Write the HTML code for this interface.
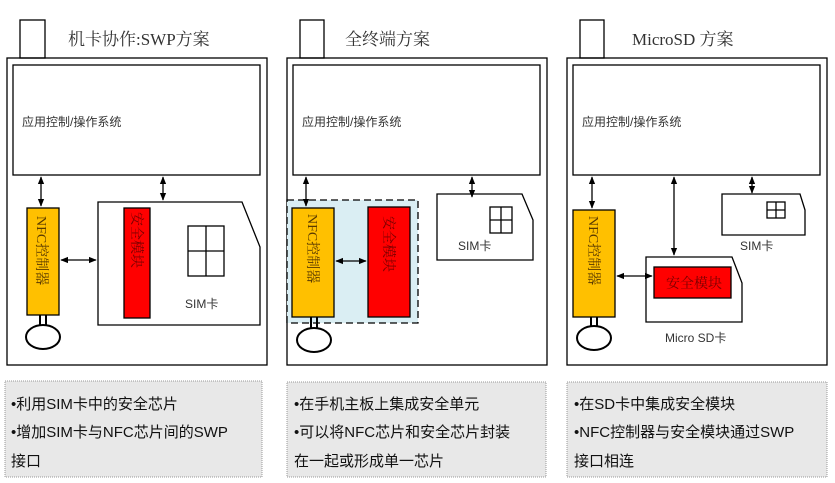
<!DOCTYPE html>
<html><head><meta charset="utf-8"><style>
html,body{margin:0;padding:0;background:#fff}
svg{display:block}
.s{font-family:"Liberation Serif","Noto Serif CJK SC",serif}
.a{font-family:"Liberation Sans","Noto Sans CJK SC",sans-serif}
</style></head><body>
<svg width="835" height="483" viewBox="0 0 835 483" xmlns="http://www.w3.org/2000/svg">
<defs>
<marker id="m" viewBox="0 0 10 10" refX="9" refY="5" markerWidth="6" markerHeight="6" orient="auto-start-reverse"><path d="M0,1 L10,5 L0,9 z" fill="#000"/></marker>
</defs>
<g stroke="#000" stroke-width="1.3" fill="none">
<rect x="20" y="20" width="25" height="38" fill="#fff"/>
<rect x="7" y="58" width="260" height="307"/>
<rect x="13" y="65" width="247" height="110"/>
<polygon points="98,202 242,202 260,247 260,325 98,325" fill="#fff"/>
<rect x="27" y="208" width="32" height="107" fill="#FFC000"/>
<rect x="124" y="208" width="26" height="110" fill="#FF0000"/>
<rect x="188" y="226" width="36" height="50"/>
<line x1="206" y1="226" x2="206" y2="276"/><line x1="188" y1="251" x2="224" y2="251"/>
<line x1="41" y1="177" x2="41" y2="206" marker-start="url(#m)" marker-end="url(#m)"/>
<line x1="163" y1="177" x2="163" y2="200" marker-start="url(#m)" marker-end="url(#m)"/>
<line x1="61" y1="260" x2="96" y2="260" marker-start="url(#m)" marker-end="url(#m)"/>
<path d="M40,315 V326 M46,315 V326" stroke-width="2"/>
<ellipse cx="43" cy="337" rx="17" ry="12" stroke-width="2" fill="#fff"/>
<rect x="300" y="20" width="24" height="38" fill="#fff"/>
<rect x="287" y="58" width="260" height="307"/>
<rect x="293" y="65" width="247" height="110"/>
<rect x="287" y="200" width="131" height="123" fill="#DAEEF3" stroke-dasharray="7,4"/>
<rect x="292" y="208" width="42" height="109" fill="#FFC000"/>
<rect x="368" y="207" width="42" height="110" fill="#FF0000"/>
<line x1="336" y1="261" x2="366" y2="261" marker-start="url(#m)" marker-end="url(#m)"/>
<line x1="306" y1="177" x2="306" y2="206" marker-start="url(#m)" marker-end="url(#m)"/>
<polygon points="437,194 522,194 533,220 533,260 437,260" fill="#fff"/>
<rect x="490" y="207" width="22" height="26"/>
<line x1="501" y1="207" x2="501" y2="233"/><line x1="490" y1="220" x2="512" y2="220"/>
<line x1="472" y1="177" x2="472" y2="197" marker-start="url(#m)" marker-end="url(#m)"/>
<path d="M311,317 V329 M317,317 V329" stroke-width="2"/>
<ellipse cx="314" cy="340" rx="17" ry="12" stroke-width="2" fill="#fff"/>
<rect x="580" y="20" width="24" height="38" fill="#fff"/>
<rect x="567" y="58" width="260" height="307"/>
<rect x="573" y="65" width="247" height="110"/>
<rect x="573" y="210" width="42" height="107" fill="#FFC000"/>
<line x1="592" y1="177" x2="592" y2="208" marker-start="url(#m)" marker-end="url(#m)"/>
<polygon points="722,194 800,194 805,210 805,235 722,235" fill="#fff"/>
<rect x="767" y="202" width="18" height="16"/>
<line x1="776" y1="202" x2="776" y2="218"/><line x1="767" y1="210" x2="785" y2="210"/>
<line x1="752" y1="177" x2="752" y2="193" marker-start="url(#m)" marker-end="url(#m)"/>
<polygon points="646,257 732,257 742,283 742,322 646,322" fill="#fff"/>
<rect x="654" y="267" width="77" height="31" fill="#FF0000"/>
<line x1="674" y1="177" x2="674" y2="255" marker-start="url(#m)" marker-end="url(#m)"/>
<line x1="617" y1="276" x2="652" y2="276" marker-start="url(#m)" marker-end="url(#m)"/>
<path d="M591,317 V327 M597,317 V327" stroke-width="2"/>
<ellipse cx="594" cy="338" rx="17" ry="12" stroke-width="2" fill="#fff"/>
</g>
<g fill="#E8E8E8" stroke="#999" stroke-width="1" stroke-dasharray="1,1">
<rect x="5" y="381" width="257" height="96"/>
<rect x="287" y="382" width="259" height="95"/>
<rect x="567" y="382" width="260" height="95"/>
</g>
<g class="s" fill="#333" font-size="17">
<text x="68" y="45">机卡协作:SWP方案</text>
<text x="345" y="45">全终端方案</text>
<text x="632" y="45">MicroSD 方案</text>
</g>
<g class="a" fill="#333" font-size="12">
<text x="22" y="126">应用控制/操作系统</text>
<text x="302" y="126">应用控制/操作系统</text>
<text x="582" y="126">应用控制/操作系统</text>
<text x="185" y="308">SIM卡</text>
<text x="458" y="250">SIM卡</text>
<text x="740" y="250">SIM卡</text>
<text x="665" y="342">Micro SD卡</text>
</g>
<g class="s" font-size="14" fill="#5a3a00">
<text transform="translate(37,216) rotate(90)">NFC控制器</text>
<text transform="translate(308,214) rotate(90)">NFC控制器</text>
<text transform="translate(589,216) rotate(90)">NFC控制器</text>
</g>
<g class="s" font-size="14" fill="#7a0000">
<text transform="translate(132,212) rotate(90)">安全模块</text>
<text transform="translate(384,216) rotate(90)">安全模块</text>
<text x="666" y="288" font-size="14">安全模块</text>
</g>
<g class="a" font-size="15" fill="#111">
<text x="11" y="409">•利用SIM卡中的安全芯片</text>
<text x="11" y="437">•增加SIM卡与NFC芯片间的SWP</text>
<text x="11" y="466">接口</text>
<text x="294" y="409">•在手机主板上集成安全单元</text>
<text x="294" y="437">•可以将NFC芯片和安全芯片封装</text>
<text x="294" y="466">在一起或形成单一芯片</text>
<text x="574" y="409">•在SD卡中集成安全模块</text>
<text x="574" y="437">•NFC控制器与安全模块通过SWP</text>
<text x="574" y="466">接口相连</text>
</g>
</svg>
</body></html>
